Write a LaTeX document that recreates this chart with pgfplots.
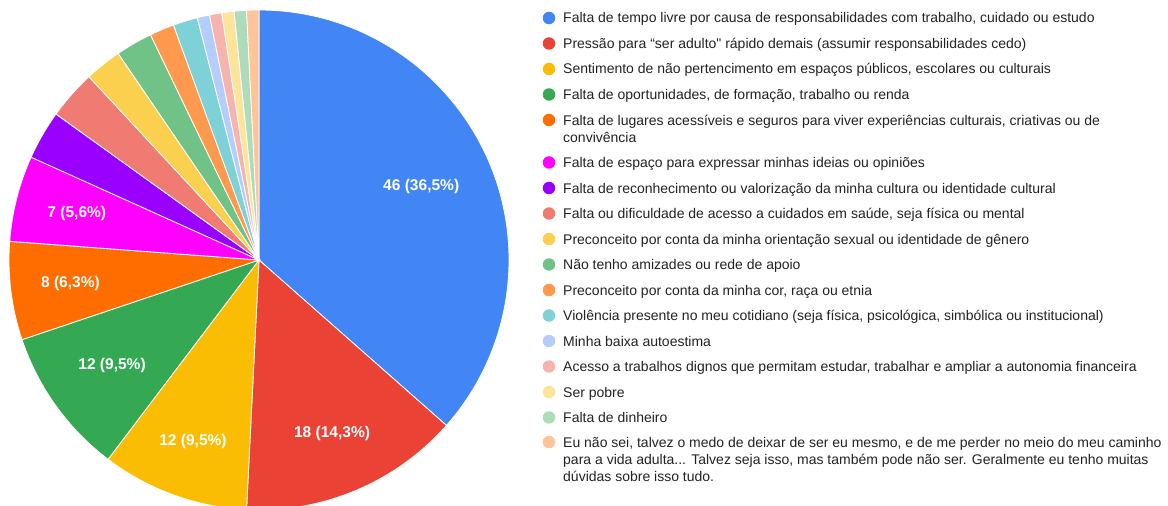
\documentclass[border=0pt]{standalone}
\usepackage{pgfplots}
\pgfplotsset{compat=1.18}
\usepackage{fontspec}
\setmainfont{Liberation Sans}
\newfontfamily\lsans{Liberation Sans}
\definecolor{c1}{HTML}{4285F4}
\definecolor{c2}{HTML}{EA4335}
\definecolor{c3}{HTML}{FBBC04}
\definecolor{c4}{HTML}{34A853}
\definecolor{c5}{HTML}{FF6D01}
\definecolor{c6}{HTML}{FF00FF}
\definecolor{c7}{HTML}{9900FF}
\definecolor{c8}{HTML}{F07B72}
\definecolor{c9}{HTML}{FCD04F}
\definecolor{c10}{HTML}{71C287}
\definecolor{c11}{HTML}{FF994D}
\definecolor{c12}{HTML}{7ED1D7}
\definecolor{c13}{HTML}{B3CEFB}
\definecolor{c14}{HTML}{F7B4AE}
\definecolor{c15}{HTML}{FDE49B}
\definecolor{c16}{HTML}{AEDCBA}
\definecolor{c17}{HTML}{FFC599}
\definecolor{txt}{HTML}{222222}
\newcommand\plabelfont{\lsans\bfseries\fontsize{15.6}{18}\selectfont}
\newcommand\legfont{\lsans\fontsize{14.05}{17}\selectfont}
\tikzset{plabel/.style={text=white, font=\plabelfont, inner sep=0pt},
  legtxt/.style={text=txt, font=\legfont, anchor=base west, inner sep=0pt},
  legdot/.style={circle, inner sep=0pt, minimum size=12.5bp}}
% pie data: value / colour / label radius / label
\def\cx{259}\def\cy{246}\def\R{250}\def\tot{126}
\gdef\piecmds{}
\gdef\labcmds{}
\gdef\cum{0}
\foreach \v/\col/\lr/\lab in {46/c1/178/{46 (36,5\%)},18/c2/188/{18 (14,3\%)},12/c3/193/{12 (9,5\%)},12/c4/181/{12 (9,5\%)},8/c5/190/{8 (6,3\%)},7/c6/188/{7 (5,6\%)},4/c7/0/{},4/c8/0/{},3/c9/0/{},3/c10/0/{},2/c11/0/{},2/c12/0/{},1/c13/0/{},1/c14/0/{},1/c15/0/{},1/c16/0/{},1/c17/0/{}}{
  \pgfmathsetmacro\a{90-\cum/\tot*360}
  \pgfmathsetmacro\cumn{\cum+\v}
  \pgfmathsetmacro\b{90-\cumn/\tot*360}
  \pgfmathsetmacro\m{(\a+\b)/2}
  \xdef\piecmds{\unexpanded\expandafter{\piecmds}%
    \noexpand\filldraw[fill=\col, draw=white, line width=0.8bp] (axis cs:\cx,\cy) -- ++(\a:\R bp) arc[start angle=\a, end angle=\b, radius=\R bp] -- cycle;}
  \xdef\labcmds{\unexpanded\expandafter{\labcmds}%
    \noexpand\path (axis cs:\cx,\cy) ++(\m:\lr bp) node[plabel] {\unexpanded\expandafter{\lab}};}
  \xdef\cum{\cumn}
}
\begin{document}
\begin{tikzpicture}
\begin{axis}[hide axis, x=1bp, y=1bp, xmin=0, xmax=1168, ymin=0, ymax=506,
  clip=false, anchor=origin, at={(0,0)}]
\piecmds
\labcmds
% legend
\node[legdot, fill=c1]  at (axis cs:549,488) {};
\node[legtxt] at (axis cs:563,483) {Falta de tempo livre por causa de responsabilidades com trabalho, cuidado ou estudo};
\node[legdot, fill=c2]  at (axis cs:549,462.5) {};
\node[legtxt] at (axis cs:563,457.5) {Pressão para “ser adulto" rápido demais (assumir responsabilidades cedo)};
\node[legdot, fill=c3]  at (axis cs:549,437) {};
\node[legtxt] at (axis cs:563,432) {Sentimento de não pertencimento em espaços públicos, escolares ou culturais};
\node[legdot, fill=c4]  at (axis cs:549,411.5) {};
\node[legtxt] at (axis cs:563,406.5) {Falta de oportunidades, de formação, trabalho ou renda};
\node[legdot, fill=c5]  at (axis cs:549,386) {};
\node[legtxt] at (axis cs:563,381) {Falta de lugares acessíveis e seguros para viver experiências culturais, criativas ou de};
\node[legtxt] at (axis cs:563,364) {convivência};
\node[legdot, fill=c6]  at (axis cs:549,343.5) {};
\node[legtxt] at (axis cs:563,338.5) {Falta de espaço para expressar minhas ideias ou opiniões};
\node[legdot, fill=c7]  at (axis cs:549,318) {};
\node[legtxt] at (axis cs:563,313) {Falta de reconhecimento ou valorização da minha cultura ou identidade cultural};
\node[legdot, fill=c8]  at (axis cs:549,292.5) {};
\node[legtxt] at (axis cs:563,287.5) {Falta ou dificuldade de acesso a cuidados em saúde, seja física ou mental};
\node[legdot, fill=c9]  at (axis cs:549,267) {};
\node[legtxt] at (axis cs:563,262) {Preconceito por conta da minha orientação sexual ou identidade de gênero};
\node[legdot, fill=c10] at (axis cs:549,241.5) {};
\node[legtxt] at (axis cs:563,236.5) {Não tenho amizades ou rede de apoio};
\node[legdot, fill=c11] at (axis cs:549,216) {};
\node[legtxt] at (axis cs:563,211) {Preconceito por conta da minha cor, raça ou etnia};
\node[legdot, fill=c12] at (axis cs:549,190.5) {};
\node[legtxt] at (axis cs:563,185.5) {Violência presente no meu cotidiano (seja física, psicológica, simbólica ou institucional)};
\node[legdot, fill=c13] at (axis cs:549,165) {};
\node[legtxt] at (axis cs:563,160) {Minha baixa autoestima};
\node[legdot, fill=c14] at (axis cs:549,139.5) {};
\node[legtxt] at (axis cs:563,134.5) {Acesso a trabalhos dignos que permitam estudar, trabalhar e ampliar a autonomia financeira};
\node[legdot, fill=c15] at (axis cs:549,114) {};
\node[legtxt] at (axis cs:563,109) {Ser pobre};
\node[legdot, fill=c16] at (axis cs:549,88.5) {};
\node[legtxt] at (axis cs:563,83.5) {Falta de dinheiro};
\node[legdot, fill=c17] at (axis cs:549,64) {};
\node[legtxt] at (axis cs:563,59) {Eu não sei, talvez o medo de deixar de ser eu mesmo, e de me perder no meio do meu caminho};
\node[legtxt] at (axis cs:563,42) {para a vida adulta... Talvez seja isso, mas também pode não ser. Geralmente eu tenho muitas};
\node[legtxt] at (axis cs:563,25) {dúvidas sobre isso tudo.};
\end{axis}
\pgfresetboundingbox
\path[use as bounding box] (0,0) rectangle (1168bp,506bp);
\end{tikzpicture}
\end{document}
